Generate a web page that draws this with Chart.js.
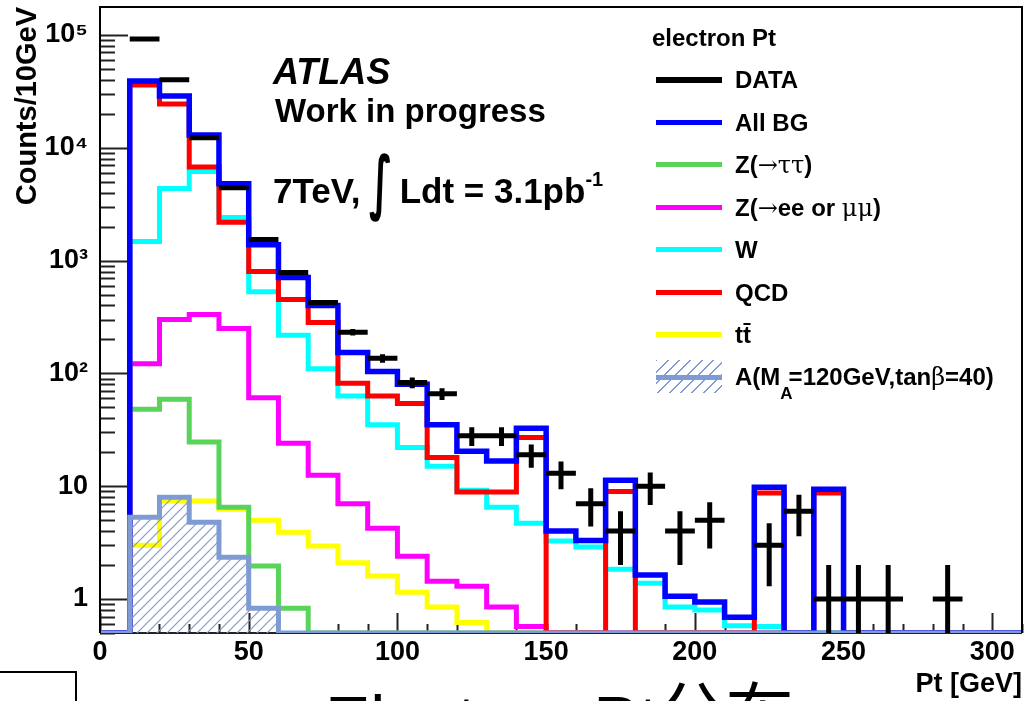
<!DOCTYPE html>
<html>
<head>
<meta charset="utf-8">
<title>electron Pt</title>
<script src="https://cdn.jsdelivr.net/npm/chart.js@4.4.1/dist/chart.umd.min.js"></script>
<style>
    html, body { margin: 0; padding: 0; background: #fff; overflow: hidden; }
    #wrap { position: relative; width: 1025px; height: 701px; overflow: hidden;
            font-family: "Liberation Sans", Arial, sans-serif; color: #000; }
    #ptChart { position: absolute; left: 0; top: 0; }
    .txt { position: absolute; white-space: nowrap; font-weight: bold; line-height: 1; }
    .sym { font-family: "DejaVu Serif", "Liberation Serif", serif; font-weight: normal; }
    .int { display: inline-block; font-family: "DejaVu Sans", sans-serif; font-weight: bold;
           position: relative; top: -7px;
           transform: scale(1.1, 2.0); transform-origin: 50% 55%; margin-right: 8px; }
    .sup { font-size: 20px; position: relative; top: -17px; }
    .sub { font-size: 17px; position: relative; top: 14px; margin-right: -4px; }
    .cjk { position: relative; top: -5px; }
    .swatch { position: absolute; left: 656px; width: 66px; }
    .hatch { position: absolute; left: 656px; width: 66px; height: 33px;
             background: repeating-linear-gradient(135deg, #7f9bd3 0 1.4px, transparent 1.4px 8px); }
</style>
</head>
<body>
<div id="wrap">
    <canvas id="ptChart" width="1025" height="701"></canvas>

    <div class="txt" style="left:273px;top:54px;font-size:36px;font-style:italic">ATLAS</div>
    <div class="txt" style="left:275px;top:94px;font-size:33px">Work in progress</div>
    <div class="txt" style="left:273px;top:173px;font-size:35px">7TeV, <span class="int">∫</span>Ldt = 3.1pb<span class="sup">-1</span></div>

    <div id="legend"></div>

    <div style="position:absolute;left:-2px;top:671px;width:75px;height:40px;border:2px solid #000"></div>
    <div class="txt" style="left:325px;top:686px;font-size:68px;font-weight:normal;font-family:'Liberation Sans','Noto Sans CJK SC',sans-serif">Electron Pt<span class="cjk">分布</span></div>
</div>

<script>
// 10 GeV bins, lower edges
const binLow = [0, 10, 20, 30, 40, 50, 60, 70, 80, 90, 100, 110, 120, 130, 140, 150,
                160, 170, 180, 190, 200, 210, 220, 230, 240, 250, 260, 270, 280, 290, 300];
const binWidth = 10;
const xTicks = [0, 50, 100, 150, 200, 250, 300];
const yTicks = [1, 10, 100, 1000, 10000, 100000];
const yTickLabels = ['1', '10', '10²', '10³', '10⁴', '10⁵'];

const dataCounts = [0, 92000, 40000, 12250, 4430, 1535, 783, 425, 232, 136, 83, 66, 28, 28, 19, 13,
                    7, 4, 10, 4, 5, 0, 3, 6, 1, 1, 1, 0, 1, 0, 0];
const dataErrors = [0, 303, 200, 111, 67, 39, 28, 21, 15, 12, 9, 8, 5.3, 5.3, 4.4, 3.6,
                    2.6, 2, 3.2, 2, 2.2, 0, 1.7, 2.4, 1, 1, 1, 0, 1, 0, 0];
const allBG = [0, 39000, 28800, 13000, 4800, 1380, 708, 400, 153, 104, 80, 35, 20.4, 16.7, 32.6, 4.0,
               3.3, 11.3, 1.63, 1.06, 0.94, 0.69, 9.8, 0, 9.4, 0, 0, 0, 0, 0, 0];
const qcd = [0, 36100, 24500, 6770, 2190, 800, 452, 282, 82, 63, 54, 18, 8.9, 8.9, 27, 0,
             0, 9.0, 0, 0, 0, 0, 8.7, 0, 8.7, 0, 0, 0, 0, 0, 0];
const wJets = [0, 1480, 4350, 6150, 2410, 530, 218, 110, 63, 35, 22, 15, 9.2, 6.5, 4.7, 3.27,
               2.9, 1.84, 1.38, 0.85, 0.8, 0.58, 0.57, 0, 0, 0, 0, 0, 0, 0, 0];
const zll = [0, 122, 300, 333, 250, 61, 24, 12.5, 7.0, 4.25, 2.4, 1.44, 1.3, 0.85, 0.57, 0,
             0, 0, 0, 0, 0, 0, 0, 0, 0, 0, 0, 0, 0, 0, 0];
const ztt = [0, 48, 59, 24.6, 6.5, 1.96, 0.83, 0, 0, 0, 0, 0, 0, 0, 0, 0,
             0, 0, 0, 0, 0, 0, 0, 0, 0, 0, 0, 0, 0, 0, 0];
const ttbar = [0, 3.0, 7.4, 7.4, 6.25, 5.0, 3.9, 2.95, 2.1, 1.6, 1.15, 0.85, 0.62, 0, 0, 0,
               0, 0, 0, 0, 0, 0, 0, 0, 0, 0, 0, 0, 0, 0, 0];
const signalA = [0, 5.3, 8.0, 4.8, 2.35, 0.83, 0, 0, 0, 0, 0, 0, 0, 0, 0, 0,
                 0, 0, 0, 0, 0, 0, 0, 0, 0, 0, 0, 0, 0, 0, 0];

const legendLabels = ['DATA', 'All BG', 'Z(<span class="sym">→ττ</span>)',
    'Z(<span class="sym">→</span>ee or <span class="sym">μμ</span>)', 'W', 'QCD', 'tt̄',
    'A(M<span class="sub">A</span>=120GeV,tan<span class="sym">β</span>=40)'];
const colors = ['#000000', '#0000ff', '#5ad35a', '#ff00ff', '#00ffff', '#ff0000', '#ffff00', '#7f9bd3'];

const xMin = 0, xMax = 310;
const yMin = 0.5, yMax = 1.77e5;

// histogram outline: a point at each lower edge, stepped so the bin value runs to the next edge
function histPoints(vals) {
    const pts = binLow.map((x, i) => ({ x: x, y: Math.max(vals[i], yMin) }));
    pts.push({ x: xMax, y: Math.max(vals[vals.length - 1], yMin) });
    return pts;
}

// data: horizontal bar over the bin + vertical error bar, separated by gaps
function dataPoints() {
    const pts = [];
    binLow.forEach((lo, i) => {
        const n = dataCounts[i];
        if (!n) return;
        const c = lo + binWidth / 2, e = dataErrors[i];
        pts.push({ x: lo, y: n }, { x: lo + binWidth, y: n }, { x: c, y: null });
        pts.push({ x: c, y: Math.max(n - e, yMin) }, { x: c, y: n + e }, { x: c, y: null });
    });
    return pts;
}

const canvas = document.getElementById('ptChart');
const ctx = canvas.getContext('2d');

function makeHatch(color) {
    const c = document.createElement('canvas');
    c.width = 10; c.height = 10;
    const g = c.getContext('2d');
    g.strokeStyle = color;
    g.lineWidth = 1.2;
    g.beginPath();
    g.moveTo(0, 10); g.lineTo(10, 0);
    g.moveTo(-5, 5); g.lineTo(5, -5);
    g.moveTo(5, 15); g.lineTo(15, 5);
    g.stroke();
    return ctx.createPattern(c, 'repeat');
}

function hist(label, vals, color, order, width) {
    return {
        label: label, data: histPoints(vals), borderColor: color, backgroundColor: color,
        borderWidth: width || 5, stepped: 'before', fill: false, order: order
    };
}

// ROOT style frame with inward tick marks
const rootFrame = {
    id: 'rootFrame',
    beforeDatasetsDraw(chart) {
        const { ctx, chartArea: a, scales: { x, y } } = chart;
        ctx.save();
        ctx.strokeStyle = '#222';
        ctx.lineWidth = 2;
        ctx.beginPath();
        ctx.moveTo(a.left, a.bottom); ctx.lineTo(a.right, a.bottom);
        binLow.concat([xMax]).forEach(v => {
            const px = Math.round(x.getPixelForValue(v)) + 0.5;
            const len = xTicks.includes(v) ? 20 : 9;
            ctx.moveTo(px, a.bottom); ctx.lineTo(px, a.bottom - len);
        });
        for (let d = -1; d <= 5; d++) {
            for (let m = 1; m <= 9; m++) {
                const v = m * Math.pow(10, d);
                if (v < yMin || v > yMax) continue;
                const py = Math.round(y.getPixelForValue(v)) + 0.5;
                ctx.moveTo(a.left, py); ctx.lineTo(a.left + (m === 1 ? 28 : 15), py);
            }
        }
        ctx.stroke();
        ctx.restore();
    },
    afterDatasetsDraw(chart) {
        const { ctx, chartArea: a } = chart;
        ctx.save();
        ctx.strokeStyle = '#000';
        ctx.lineWidth = 2;
        ctx.beginPath();
        ctx.moveTo(a.left, a.bottom); ctx.lineTo(a.left, a.top);
        ctx.lineTo(a.right, a.top); ctx.lineTo(a.right, a.bottom);
        ctx.stroke();
        ctx.restore();
    }
};

const signalDs = hist('A(MA=120GeV,tanβ=40)', signalA, colors[7], 1);
signalDs.fill = 'start';
signalDs.backgroundColor = makeHatch(colors[7]);

new Chart(ctx, {
    type: 'line',
    data: {
        datasets: [
            {
                label: 'DATA', data: dataPoints(), borderColor: colors[0], backgroundColor: colors[0],
                borderWidth: 5, fill: false, spanGaps: false, order: 0
            },
            hist('All BG', allBG, colors[1], 2, 5.5),
            hist('Z(→ττ)', ztt, colors[2], 7),
            hist('Z(→ee or μμ)', zll, colors[3], 6),
            hist('W', wJets, colors[4], 4),
            hist('QCD', qcd, colors[5], 3),
            hist('tt̄', ttbar, colors[6], 8),
            signalDs
        ]
    },
    options: {
        responsive: false,
        animation: false,
        devicePixelRatio: 1,
        layout: { padding: { top: 7, right: 3, left: 0, bottom: 0 } },
        elements: {
            point: { radius: 0, hoverRadius: 0 },
            line: { tension: 0, borderCapStyle: 'butt', borderJoinStyle: 'miter' }
        },
        plugins: { legend: { display: false }, tooltip: { enabled: false } },
        scales: {
            x: {
                type: 'linear', min: xMin, max: xMax,
                grid: { display: false, drawTicks: false }, border: { display: false },
                afterBuildTicks: s => { s.ticks = xTicks.map(v => ({ value: v })); },
                afterFit: s => { s.height = 68; s.paddingLeft = 0; s.paddingRight = 0; },
                ticks: {
                    autoSkip: false, maxRotation: 0, padding: 3, color: '#000',
                    font: { family: 'Liberation Sans', size: 27, weight: 'bold' },
                    callback: v => String(v)
                },
                title: {
                    display: true, text: 'Pt [GeV]', align: 'end', color: '#000',
                    font: { family: 'Liberation Sans', size: 27, weight: 'bold' },
                    padding: { top: 0, bottom: 0 }
                }
            },
            y: {
                type: 'logarithmic', min: yMin, max: yMax,
                grid: { display: false, drawTicks: false }, border: { display: false },
                afterBuildTicks: s => { s.ticks = yTicks.map(v => ({ value: v, major: true })); },
                afterFit: s => { s.width = 100; s.paddingTop = 0; s.paddingBottom = 0; },
                ticks: {
                    autoSkip: false, padding: 12, color: '#000',
                    font: { family: 'Liberation Sans', size: 27, weight: 'bold' },
                    callback: v => yTickLabels[yTicks.indexOf(v)]
                },
                title: {
                    display: true, text: 'Counts/10GeV', align: 'end', color: '#000',
                    font: { family: 'Liberation Sans', size: 29, weight: 'bold' },
                    padding: { top: 11, bottom: 0 }
                }
            }
        }
    },
    plugins: [rootFrame]
});

// legend, ROOT TLegend look
const legend = document.getElementById('legend');
let html = '<div class="txt" style="left:652px;top:26px;font-size:24px">electron Pt</div>';
legendLabels.forEach((lab, i) => {
    const cy = 80 + 42.43 * i;
    if (i === legendLabels.length - 1) {
        html += `<div class="hatch" style="top:${cy - 17}px"></div>`;
    }
    const h = i === 0 ? 6 : 5;
    html += `<div class="swatch" style="top:${cy - h / 2}px;height:${h}px;background:${colors[i]}"></div>`;
    html += `<div class="txt" style="left:735px;top:${cy - 11.6}px;font-size:24px">${lab}</div>`;
});
legend.innerHTML = html;
</script>
</body>
</html>
